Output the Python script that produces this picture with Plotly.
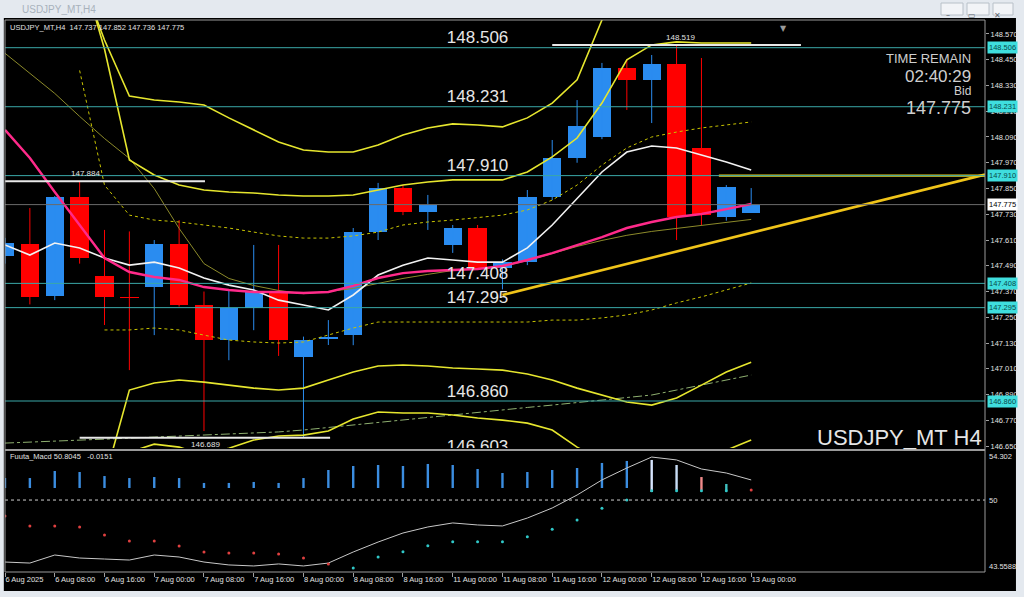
import plotly.graph_objects as go

# ---------------- data ----------------
bar_idx = list(range(31))
time_tick_idx = [0, 2, 4, 6, 8, 10, 12, 14, 16, 18, 20, 22, 24, 26, 28, 30]
time_tick_text = ["6 Aug 2025", "6 Aug 08:00", "6 Aug 16:00", "7 Aug 00:00", "7 Aug 08:00",
                  "7 Aug 16:00", "8 Aug 00:00", "8 Aug 08:00", "8 Aug 16:00", "11 Aug 00:00",
                  "11 Aug 08:00", "11 Aug 16:00", "12 Aug 00:00", "12 Aug 08:00", "12 Aug 16:00",
                  "13 Aug 00:00"]

opens = [147.535, 147.591, 147.349, 147.810, 147.442, 147.344, 147.391, 147.591, 147.307, 147.144,
         147.293, 147.368, 147.065, 147.150, 147.167, 147.647, 147.852, 147.740, 147.587, 147.666,
         147.480, 147.507, 147.810, 147.992, 148.090, 148.410, 148.356, 148.430, 148.039, 147.717,
         147.737]
highs = [147.620, 147.759, 147.815, 147.884, 147.657, 147.650, 147.610, 147.703, 147.370, 147.377,
         147.587, 147.587, 147.160, 147.237, 147.666, 147.876, 147.866, 147.820, 147.680, 147.680,
         147.520, 147.843, 148.076, 148.262, 148.435, 148.449, 148.472, 148.519, 148.458, 147.866,
         147.852]
lows = [147.500, 147.310, 147.330, 147.500, 147.214, 147.004, 147.167, 147.300, 146.720, 147.050,
        147.190, 147.070, 146.689, 147.121, 147.120, 147.610, 147.726, 147.657, 147.550, 147.470,
        147.380, 147.493, 147.796, 147.970, 148.080, 148.216, 148.155, 147.610, 147.680, 147.700,
        147.736]
closes = [147.596, 147.344, 147.810, 147.526, 147.344, 147.340, 147.591, 147.307, 147.144, 147.293,
          147.368, 147.144, 147.144, 147.160, 147.647, 147.852, 147.740, 147.773, 147.666, 147.480,
          147.507, 147.810, 147.992, 148.141, 148.410, 148.356, 148.430, 147.717, 147.726, 147.857,
          147.775]

ma_pink = [148.123, 147.992, 147.834, 147.680, 147.526, 147.461, 147.438, 147.424, 147.391, 147.377,
           147.368, 147.368, 147.363, 147.368, 147.396, 147.433, 147.456, 147.466, 147.470, 147.475,
           147.489, 147.517, 147.549, 147.587, 147.624, 147.666, 147.694, 147.717, 147.731, 147.754,
           147.778]
ma_white = [147.587, 147.540, 147.596, 147.573, 147.526, 147.493, 147.507, 147.480, 147.433, 147.400,
            147.377, 147.330, 147.307, 147.284, 147.354, 147.447, 147.493, 147.526, 147.517, 147.507,
            147.507, 147.573, 147.680, 147.806, 147.927, 148.020, 148.048, 148.039, 148.006, 147.973,
            147.936]
band_mid = [148.480, 148.386, 148.293, 148.186, 148.083, 147.990, 147.850, 147.664, 147.500, 147.431,
            147.398, 147.375, 147.360, 147.370, 147.384, 147.408, 147.431, 147.450, 147.468, 147.477,
            147.487, 147.514, 147.547, 147.580, 147.608, 147.632, 147.650, 147.664, 147.678, 147.692,
            147.706]
band_up3 = [149.200, 149.100, 149.000, 148.850, 148.542, 148.281, 148.262, 148.253, 148.239, 148.179,
            148.123, 148.067, 148.029, 148.020, 148.020, 148.053, 148.099, 148.132, 148.151, 148.146,
            148.137, 148.179, 148.248, 148.356, 148.635, 148.900, None, None, None, None, None]
band_up2 = [None, None, None, 148.900, 148.500, 147.983, 147.913, 147.866, 147.843, 147.834,
            147.829, 147.820, 147.815, 147.815, 147.820, 147.843, 147.866, 147.880, 147.890, 147.890,
            147.890, 147.927, 147.997, 148.085, 148.248, 148.449, 148.519, 148.533, 148.528, 148.528,
            148.528]
band_up1 = [None, None, None, 148.400, 147.866, 147.726, 147.703, 147.694, 147.680, 147.666,
            147.647, 147.629, 147.619, 147.619, 147.629, 147.647, 147.680, 147.694, 147.703, 147.713,
            147.726, 147.750, 147.796, 147.866, 147.959, 148.039, 148.090, 148.113, 148.132, 148.146,
            148.160]
band_lo1 = [None, None, None, None, 147.191, 147.191, 147.200, 147.191, 147.167, 147.144,
            147.135, 147.130, 147.135, 147.167, 147.200, 147.228, 147.228, 147.228, 147.228, 147.228,
            147.228, 147.228, 147.237, 147.237, 147.247, 147.261, 147.284, 147.317, 147.345, 147.377,
            147.410]
band_lo2 = [None, None, None, None, 146.492, 146.911, 146.944, 146.958, 146.948, 146.934,
            146.920, 146.911, 146.920, 146.958, 146.995, 147.023, 147.028, 147.023, 147.014, 147.009,
            147.004, 146.986, 146.958, 146.920, 146.888, 146.855, 146.841, 146.874, 146.934, 146.995,
            147.041]
band_lo3 = [None, None, None, None, None, 146.622, 146.659, 146.645, 146.610, 146.640,
            146.678, 146.697, 146.701, 146.720, 146.776, 146.809, 146.804, 146.804, 146.795, 146.781,
            146.771, 146.757, 146.725, 146.645, 146.585, None, None, None, None, 146.631, 146.678]
ma_long = [146.664, 146.668, 146.673, 146.678, 146.682, 146.687, 146.692, 146.697, 146.701, 146.706,
           146.711, 146.716, 146.725, 146.737, 146.748, 146.760, 146.771, 146.783, 146.795, 146.806,
           146.818, 146.830, 146.841, 146.853, 146.864, 146.876, 146.888, 146.911, 146.934, 146.958,
           146.981]

level_prices = [148.506, 148.231, 147.910, 147.408, 147.295, 146.860]
level_text_prices = [148.506, 148.231, 147.910, 147.408, 147.295, 146.860, 146.603]
bid_price = 147.775
hl_lines = [(0, 8.04, 147.884), (3.0, 13.07, 146.689), (22.0, 32.0, 148.519)]
hl_label_pos = [(3.22, 147.884, 8), (8.08, 146.689, -7), (27.14, 148.519, 7)]
trend_x = [20.0, 39.4]
trend_y = [147.354, 147.915]
hline_x = [28.7, 39.4]
hline_y = [147.910, 147.910]

price_ticks = [146.650, 146.770, 146.890, 147.010, 147.130, 147.250, 147.370, 147.490, 147.610,
               147.730, 147.850, 147.970, 148.090, 148.210, 148.330, 148.450, 148.570]

macd_signal = [44.45, 44.36, 45.08, 44.81, 44.72, 44.63, 45.08, 44.90, 44.45, 44.19,
               44.10, 44.28, 44.10, 44.36, 45.35, 46.24, 47.05, 47.59, 47.95, 47.77,
               47.68, 48.39, 49.29, 50.45, 51.80, 52.87, 53.85, 53.59, 52.78, 52.42, 51.80]
macd_dots = [48.57, 47.68, 47.68, 47.59, 46.87, 46.33, 46.33, 45.89, 45.35, 45.26,
             45.26, 45.17, 44.81, 44.28, 43.92, 44.90, 45.38, 45.91, 46.27, 46.27,
             46.27, 46.72, 47.38, 48.21, 49.26, 50.00, 50.84, 50.84, 50.84, 50.84, 50.90]
macd_dot_up = [False] * 14 + [True] * 16 + [False]
hist_top = [51.97, 51.97, 52.60, 52.51, 52.15, 51.97, 52.06, 51.97, 51.53, 51.53,
            51.62, 51.53, 51.97, 52.69, 53.05, 53.14, 53.05, 53.23, 53.14, 52.78,
            52.42, 52.51, 52.69, 52.87, 53.32, 53.50, 53.59, 53.14, 52.06, 51.44, None]
hist_bot = [51.08] * 26 + [50.72, 50.90, 50.90, 50.90, None]
hist_col = ["#3b8de0"] * 26 + ["#d8e6ff", "#c8dcf5", "#f08a8a", "#40c0c0", "#000000"]

# ---------------- figure ----------------
BULL = "#2a8cf0"
BEAR = "#ff0000"
FONT = "Liberation Sans"

fig = go.Figure()

# wicks
for up, col in [(True, BULL), (False, BEAR)]:
    wx, wy = [], []
    for i in bar_idx:
        if (closes[i] >= opens[i]) == up:
            wx += [i, i, None]
            wy += [lows[i], highs[i], None]
    fig.add_trace(go.Scatter(x=wx, y=wy, mode="lines", line=dict(color=col, width=1),
                             hoverinfo="skip", xaxis="x", yaxis="y"))

# bodies
body_base = [min(o, c) for o, c in zip(opens, closes)]
body_h = [max(abs(c - o), 0.004) for o, c in zip(opens, closes)]
body_col = [BULL if c >= o else BEAR for o, c in zip(opens, closes)]
fig.add_trace(go.Bar(x=bar_idx, y=body_h, base=body_base, width=0.74,
                     marker=dict(color=body_col, line=dict(width=0)),
                     xaxis="x", yaxis="y", hoverinfo="skip"))

def line(y, color, width, dash="solid"):
    fig.add_trace(go.Scatter(x=bar_idx, y=y, mode="lines", line=dict(color=color, width=width, dash=dash),
                             connectgaps=False, hoverinfo="skip", xaxis="x", yaxis="y"))

line(ma_long, "#8fb070", 1, "dashdot")
line(band_mid, "#8c8a2a", 1)
line(band_up1, "#c8c400", 1, "dot")
line(band_lo1, "#c8c400", 1, "dot")
line(band_up3, "#e6e62e", 1.6)
line(band_up2, "#e6e62e", 1.6)
line(band_lo2, "#e6e62e", 1.6)
line(band_lo3, "#e6e62e", 1.6)
line(ma_white, "#f2f2f2", 1.6)
line(ma_pink, "#ff2a8a", 2.4)

# drawn trend objects
fig.add_trace(go.Scatter(x=trend_x, y=trend_y, mode="lines", line=dict(color="#f0c419", width=2.6),
                         hoverinfo="skip", xaxis="x", yaxis="y"))
fig.add_trace(go.Scatter(x=hline_x, y=hline_y, mode="lines", line=dict(color="#f0d219", width=2.2),
                         hoverinfo="skip", xaxis="x", yaxis="y"))
for x0, x1, p in hl_lines:
    fig.add_trace(go.Scatter(x=[x0, x1], y=[p, p], mode="lines", line=dict(color="#e8e8e8", width=2),
                             hoverinfo="skip", xaxis="x", yaxis="y"))

# level labels (clipped to the plot)
fig.add_trace(go.Scatter(x=[19.0] * len(level_text_prices), y=level_text_prices, mode="text",
                         text=[f"{p:.3f}" for p in level_text_prices], textposition="top center",
                         textfont=dict(family=FONT, size=17, color="#e6e6e6"), cliponaxis=True,
                         hoverinfo="skip", xaxis="x", yaxis="y"))

# MACD panel
for col in sorted(set(hist_col)):
    hx, hy = [], []
    for i in bar_idx:
        if hist_col[i] == col and hist_top[i] is not None:
            hx += [i, i, None]
            hy += [hist_bot[i], hist_top[i], None]
    if hx:
        fig.add_trace(go.Scatter(x=hx, y=hy, mode="lines", line=dict(color=col, width=2.4),
                                 hoverinfo="skip", xaxis="x2", yaxis="y2"))
fig.add_trace(go.Scatter(x=bar_idx, y=macd_signal, mode="lines", line=dict(color="#c8c8c8", width=1),
                         hoverinfo="skip", xaxis="x2", yaxis="y2"))
fig.add_trace(go.Scatter(x=bar_idx, y=macd_dots, mode="markers",
                         marker=dict(size=3, color=["#30c8c8" if u else "#e04040" for u in macd_dot_up]),
                         hoverinfo="skip", xaxis="x2", yaxis="y2"))
fig.add_trace(go.Scatter(x=[0, 39.4], y=[50, 50], mode="lines", line=dict(color="#d0d0d0", width=1, dash="dot"),
                         hoverinfo="skip", xaxis="x2", yaxis="y2"))

# ---------------- layout ----------------
shapes = []
for p in level_prices:
    shapes.append(dict(type="line", xref="paper", x0=0, x1=1, yref="y", y0=p, y1=p,
                       line=dict(color="#3aa8a8", width=1)))
shapes.append(dict(type="line", xref="paper", x0=0, x1=1, yref="y", y0=bid_price, y1=bid_price,
                   line=dict(color="#6a6a6a", width=1)))
# chart frame and panel separator
shapes.append(dict(type="rect", xref="paper", yref="paper", x0=0, x1=1, y0=0, y1=1,
                   line=dict(color="#9a9a9a", width=1)))
shapes.append(dict(type="line", xref="paper", yref="paper", x0=0, x1=1, y0=0.2210, y1=0.2210,
                   line=dict(color="#9a9a9a", width=2)))
# window chrome
CH = "#e4e9ef"
shapes += [
    dict(type="rect", xref="paper", yref="paper", x0=-0.006, x1=1.041, y0=1.0036, y1=1.04,
         fillcolor=CH, line=dict(width=0), layer="below"),
    dict(type="rect", xref="paper", yref="paper", x0=-0.006, x1=-0.0012, y0=-0.05, y1=1.04,
         fillcolor=CH, line=dict(width=0), layer="below"),
    dict(type="rect", xref="paper", yref="paper", x0=1.0316, x1=1.041, y0=-0.05, y1=1.04,
         fillcolor=CH, line=dict(width=0), layer="below"),
    dict(type="rect", xref="paper", yref="paper", x0=-0.006, x1=1.041, y0=-0.05, y1=-0.0344,
         fillcolor=CH, line=dict(width=0), layer="below"),
]
for bx in [(941, 963), (967, 989), (993, 1013)]:
    shapes.append(dict(type="rect", xref="paper", yref="paper",
                       x0=(bx[0] - 5) / 980, x1=(bx[1] - 5) / 980,
                       y0=(572 - 15) / 552, y1=(572 - 3) / 552,
                       fillcolor="#f2f4f7", line=dict(color="#b8c0c8", width=1)))

annotations = []
small = dict(family=FONT, size=7.5, color="#e0e0e0")
annotations.append(dict(xref="paper", yref="paper", x=0.0031, y=0.9873, xanchor="left", yanchor="middle",
                        text="USDJPY_MT,H4  147.737 147.852 147.736 147.775", showarrow=False, font=small))
annotations.append(dict(xref="paper", yref="paper", x=0.0031, y=(572 - 456) / 552, xanchor="left",
                        yanchor="middle", text="Fuuta_Macd 50.8045   -0.0151", showarrow=False, font=small))
annotations.append(dict(xref="paper", yref="paper", x=(20 - 5) / 980, y=(572 - 9) / 552, xanchor="left",
                        yanchor="middle", text="USDJPY_MT,H4", showarrow=False,
                        font=dict(family=FONT, size=10, color="#a8b2bc")))
for gx, g in [(952, "–"), (978, "▭"), (1003, "✕")]:
    annotations.append(dict(xref="paper", yref="paper", x=(gx - 5) / 980, y=(572 - 9) / 552,
                            text=g, showarrow=False, font=dict(family="DejaVu Sans", size=8, color="#606870")))
# price axis highlight boxes
for p in level_prices:
    annotations.append(dict(xref="paper", yref="y", x=1.002, y=p, xanchor="left", yanchor="middle",
                            text=f"{p:.3f}", showarrow=False, bgcolor="#3fdede", borderpad=1,
                            font=dict(family=FONT, size=7.5, color="#0a4a4a")))
annotations.append(dict(xref="paper", yref="y", x=1.002, y=bid_price, xanchor="left", yanchor="middle",
                        text=f"{bid_price:.3f}", showarrow=False, bgcolor="#ffffff", borderpad=1,
                        font=dict(family=FONT, size=7.5, color="#000000")))
# MACD axis labels
for v, t, ys in [(54.302, "54.302", -5), (50, "50", 0), (43.5588, "43.5588", 5)]:
    annotations.append(dict(xref="paper", yref="y2", x=1.002, y=v, yshift=ys, xanchor="left",
                            yanchor="middle", text=t, showarrow=False, font=small))
# high / low labels
for x, p, ys in hl_label_pos:
    annotations.append(dict(xref="x", yref="y", x=x, y=p, yshift=ys, text=f"{p:.3f}", showarrow=False,
                            font=dict(family=FONT, size=8, color="#e0e0e0")))
# info block
info = [("TIME REMAIN", 59, 13), ("02:40:29", 76, 17), ("Bid", 91, 12), ("147.775", 108, 18)]
for t, py, sz in info:
    annotations.append(dict(xref="paper", yref="paper", x=(973 - 5) / 980, y=(572 - py) / 552,
                            xanchor="right", yanchor="middle", text=t, showarrow=False,
                            font=dict(family=FONT, size=sz, color="#cfcfcf")))
annotations.append(dict(xref="paper", yref="paper", x=0.999, y=(572 - 437) / 552, xanchor="right",
                        yanchor="middle", text="USDJPY_MT H4", showarrow=False,
                        font=dict(family=FONT, size=22, color="#e6e6e6")))
annotations.append(dict(xref="paper", yref="paper", x=(789 - 5) / 980, y=(572 - 22) / 552,
                        text="▼", showarrow=False, font=dict(family="DejaVu Sans", size=8, color="#9a9a9a")))

fig.update_layout(
    width=1024, height=597, margin=dict(l=5, r=39, t=20, b=25, autoexpand=False),
    paper_bgcolor="#000000", plot_bgcolor="#000000", showlegend=False,
    xaxis=dict(domain=[0, 1], range=[0, 39.4], anchor="y", showticklabels=False, showgrid=False,
               zeroline=False, ticks="", automargin=False),
    xaxis2=dict(domain=[0, 1], range=[0, 39.4], anchor="y2", matches="x", tickmode="array",
                tickvals=time_tick_idx, ticktext=time_tick_text, ticks="outside", ticklen=4,
                tickcolor="#a0a0a0", ticklabelposition="outside right", tickangle=0, automargin=False,
                tickfont=dict(family=FONT, size=7.5, color="#e0e0e0"), showgrid=False, zeroline=False),
    yaxis=dict(domain=[0.2246, 1], range=[146.641, 148.635], side="right", anchor="x", tickmode="array",
               tickvals=price_ticks, ticktext=[f"{p:.3f}" for p in price_ticks], ticks="outside",
               ticklen=3, tickcolor="#a0a0a0", tickfont=dict(family=FONT, size=7.5, color="#e0e0e0"),
               showgrid=False, zeroline=False, automargin=False),
    yaxis2=dict(domain=[0, 0.2174], range=[43.5588, 54.302], side="right", anchor="x2",
                showticklabels=False, ticks="", showgrid=False, zeroline=False, automargin=False),
    shapes=shapes, annotations=annotations, bargap=0,
)

fig.write_html("out.html", config={"displayModeBar": False},
               post_script="document.body.style.margin='0px';document.body.style.overflow='hidden';")
